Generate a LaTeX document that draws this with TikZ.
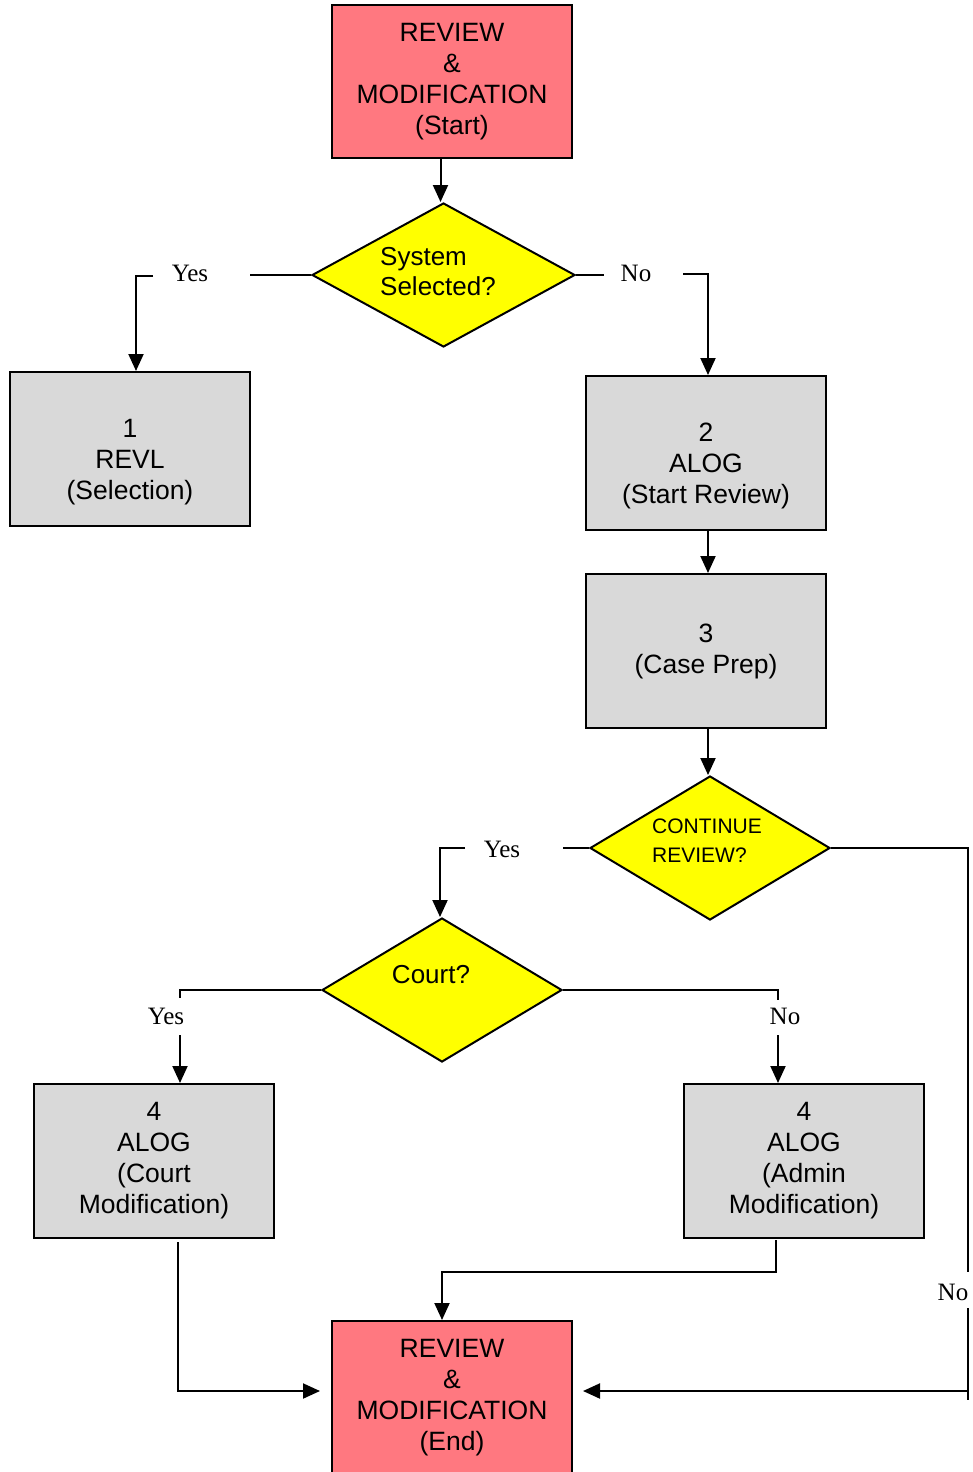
\documentclass[tikz,border=0pt]{standalone}
\usepackage{fontspec}
\setmainfont{Liberation Serif}
\newfontfamily\arialf{Liberation Sans}
\usetikzlibrary{shapes.geometric,arrows.meta}
\definecolor{pinkfill}{HTML}{FF7880}
\definecolor{grayfill}{HTML}{D9D9D9}
\definecolor{yellowfill}{HTML}{FFFF00}
\newcommand{\lowstrut}{\rule{0pt}{45pt}}
\tikzset{
  boxnode/.style={draw=black, line width=2pt, minimum width=240pt, minimum height=154pt, inner sep=0pt,
    align=center, font=\arialf\fontsize{26.5pt}{31pt}\selectfont},
  termnode/.style={boxnode, fill=pinkfill},
  procnode/.style={boxnode, fill=grayfill},
  dianode/.style={draw=black, line width=2pt, diamond, fill=yellowfill, minimum width=240pt, minimum height=144pt, inner sep=0pt},
  dtext/.style={align=left, inner sep=0pt, font=\arialf\fontsize{26pt}{30pt}\selectfont},
  lbl/.style={inner sep=0pt, font=\fontsize{25pt}{30pt}\selectfont},
  conn/.style={line width=2pt},
  arr/.style={conn, -{Triangle[width=15pt,length=17pt]}},
}
\begin{document}
\begin{tikzpicture}[x=1pt,y=-1pt]
\useasboundingbox (0,0) rectangle (972,1472);
\clip (0,0) rectangle (972,1472);
\fill[white] (0,0) rectangle (972,1472);

% nodes
\node[termnode, minimum height=153pt] (start) at (452,81.5) {REVIEW\\\&\\MODIFICATION\\(Start)};
\node[dianode, minimum width=263pt] (d1) at (443.5,275) {};
\node[dtext] (d1t) at (438,272) {System\\Selected?};
\node[procnode] (b1) at (130,449) {\lowstrut1\\REVL\\(Selection)};
\node[procnode] (b2) at (706,453) {\lowstrut2\\ALOG\\(Start Review)};
\node[procnode] (b3) at (706,651) {3\\(Case Prep)};
\node[dianode] (d2) at (710,848) {};
\node[dtext, font=\arialf\fontsize{21pt}{29pt}\selectfont] (d2t) at (707,841) {CONTINUE\\REVIEW?};
\node[dianode] (d3) at (442,990) {};
\node[dtext] (d3t) at (431,975) {Court?};
\node[procnode] (b4a) at (154,1161) {4\\ALOG\\(Court\\Modification)};
\node[procnode] (b4b) at (804,1161) {4\\ALOG\\(Admin\\Modification)};
\node[termnode, minimum height=153pt] (end) at (452,1397.5) {REVIEW\\\&\\MODIFICATION\\(End)};

% labels
\node[lbl] (y1) at (190,273) {Yes};
\node[lbl] (n1) at (636,273) {No};
\node[lbl] (y2) at (502,849) {Yes};
\node[lbl] (y3) at (166,1016) {Yes};
\node[lbl] (n3) at (785,1016) {No};
\node[lbl] (n2) at (953,1292) {No};

% coordinates for gaps
\coordinate (y1r) at (250,275);
\coordinate (y1l) at (153,276);
\coordinate (n1l) at (604,275);
\coordinate (n1r) at (683,274);
\coordinate (y2r) at (563,848);
\coordinate (y2l) at (465,848);
\coordinate (y3t) at (180,998);
\coordinate (y3b) at (180,1035);
\coordinate (n3t) at (778,1000);
\coordinate (n3b) at (778,1035);
\coordinate (n2t) at (968,1272);
\coordinate (n2b) at (968,1308);
\coordinate (n2e) at (968,1400);
\coordinate (jr) at (968,1391);
\coordinate (endr) at (572,1391);
\coordinate (endl) at (332,1391);
\coordinate (a4a) at (178,1242);
\coordinate (a4b) at (776,1240);

% connectors
\draw[arr] ([xshift=-3pt]d1.north |- start.south) -- ([xshift=-3pt]d1.north);
\draw[conn] (d1.west) -- (y1r);
\draw[arr] (y1l) -| ([xshift=6pt]b1.north);
\draw[conn] (d1.east) -- (n1l);
\draw[arr] (n1r) -| ([xshift=2pt]b2.north);
\draw[arr] ([xshift=2pt]b2.south) -- ([xshift=2pt]b3.north);
\draw[arr] ([xshift=2pt]b3.south) -- ([xshift=2pt]b3.south |- d2.north);
\draw[conn] (d2.west) -- (y2r);
\draw[arr] (y2l) -| ([xshift=-2pt]d3.north);
\draw[conn] (d2.east) -| (n2t);
\draw[conn] (n2b) -- (n2e);
\draw[arr] (jr) -- ([xshift=11pt]endr);
\draw[conn] (d3.west) -| (y3t);
\draw[arr] (y3b) -- (y3b |- b4a.north);
\draw[conn] (d3.east) -| (n3t);
\draw[arr] (n3b) -- (n3b |- b4b.north);
\draw[arr] (a4b) |- (442,1272) -- ([xshift=-10pt]end.north);
\draw[arr] (a4a) |- ([xshift=-12pt]endl);
\end{tikzpicture}
\end{document}
